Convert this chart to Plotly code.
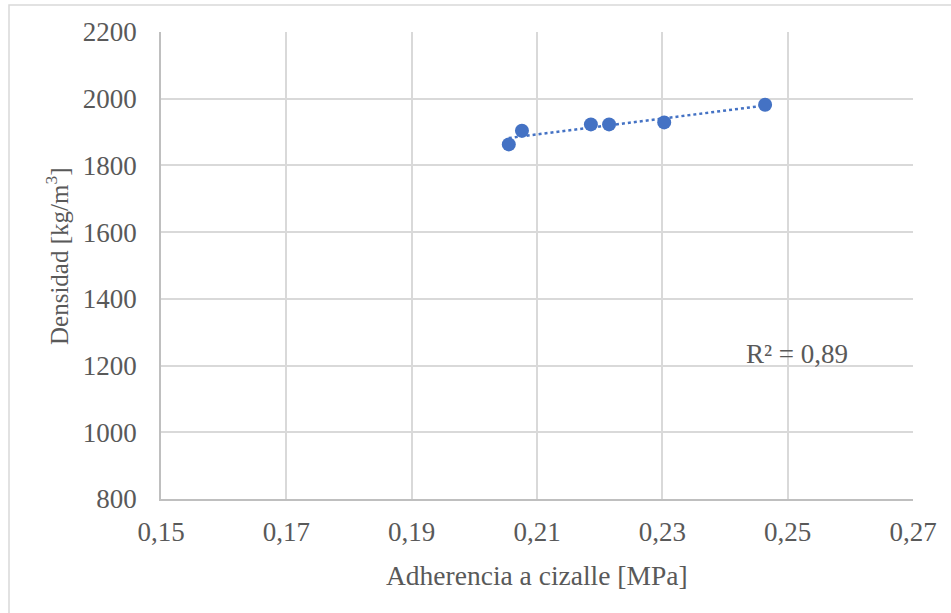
import numpy as np
import plotly.graph_objects as go

adherencia = [0.2055, 0.2076, 0.2186, 0.2215, 0.2303, 0.2464]
densidad = [1863, 1904, 1923, 1923, 1929, 1982]
x_ticks = [0.15, 0.17, 0.19, 0.21, 0.23, 0.25, 0.27]
y_ticks = [800, 1000, 1200, 1400, 1600, 1800, 2000, 2200]
r2_label = "R² = 0,89"
x_title = "Adherencia a cizalle [MPa]"
y_title = "Densidad [kg/m<sup>3</sup>]"

W, H = 951, 613
L, R, T, B = 161, 38, 32, 114
pw, ph = W - L - R, H - T - B

def px2paper(px, py):
    return (px - L) / pw, (H - B - py) / ph

slope, intercept = np.polyfit(adherencia, densidad, 1)
xt = np.array([min(adherencia), max(adherencia)])
yt = slope * xt + intercept

font = "Liberation Serif, Times New Roman, serif"
grey = "#595959"
FS = 27

fig = go.Figure()
fig.add_trace(go.Scatter(x=xt, y=yt, mode="lines",
                         line=dict(color="#4472C4", width=2.5, dash="dot"),
                         showlegend=False, hoverinfo="skip"))
fig.add_trace(go.Scatter(x=adherencia, y=densidad, mode="markers",
                         marker=dict(color="#4472C4", size=14),
                         showlegend=False))

x0, y0 = px2paper(9, 5)
x1, y1 = px2paper(970, 640)
fig.add_shape(type="rect", xref="paper", yref="paper", x0=x0, y0=y1, x1=x1, y1=y0,
              line=dict(color="#d9d9d9", width=1.5), layer="below")

ax, ay = px2paper(797, 354)
fig.add_annotation(x=ax, y=ay, xref="paper", yref="paper", text=r2_label,
                   showarrow=False, xanchor="center", yanchor="middle",
                   font=dict(family=font, size=FS, color=grey))

tx, ty = px2paper(537, 575)
fig.add_annotation(x=tx, y=ty, xref="paper", yref="paper", text=x_title,
                   showarrow=False, xanchor="center", yanchor="middle",
                   font=dict(family=font, size=27.5, color=grey))

vx, vy = px2paper(57, 257)
fig.add_annotation(x=vx, y=vy, xref="paper", yref="paper", text=y_title,
                   showarrow=False, xanchor="center", yanchor="middle", textangle=-90,
                   font=dict(family=font, size=25, color=grey))

fig.update_layout(
    width=W, height=H,
    margin=dict(l=L, r=R, t=T, b=B, pad=0),
    paper_bgcolor="white", plot_bgcolor="white",
    separators=",.",
    font=dict(family=font, size=FS, color=grey),
    xaxis=dict(range=[0.15, 0.27], tickvals=x_ticks, tickformat=".2f",
               showgrid=True, gridcolor="#d9d9d9", gridwidth=1.5,
               showline=True, linecolor="#bfbfbf", linewidth=1.5,
               zeroline=False, ticks="", ticklen=0, ticklabelstandoff=8,
               tickfont=dict(family=font, size=FS, color=grey)),
    yaxis=dict(range=[800, 2200], tickvals=y_ticks,
               showgrid=True, gridcolor="#d9d9d9", gridwidth=1.5,
               showline=True, linecolor="#bfbfbf", linewidth=1.5,
               zeroline=False, ticks="", ticklen=0, ticklabelstandoff=17,
               tickfont=dict(family=font, size=FS, color=grey)),
)

fig.write_html("out.html")
